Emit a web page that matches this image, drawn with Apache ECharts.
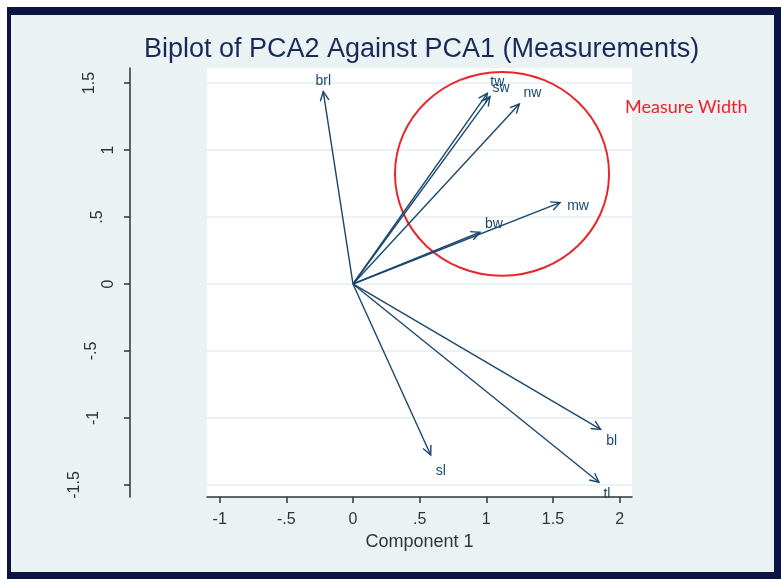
<!DOCTYPE html>
<html><head><meta charset="utf-8">
<script src="https://cdn.jsdelivr.net/npm/echarts@6/dist/echarts.min.js"></script>
<style>
html,body{margin:0;padding:0;background:#fff;}
#frame{position:absolute;left:7px;top:7px;width:774px;height:572px;background:#0c1442;}
#inner{position:absolute;left:11px;top:15px;width:763px;height:557px;background:#eaf2f3;}
#chart{position:absolute;left:0;top:0;width:781px;height:579px;}
</style></head><body>
<div id="frame"></div><div id="inner"></div><div id="chart"></div>
<script>
// ---- data ----
const varNames = ['brl', 'tw', 'sw', 'nw', 'mw', 'bw', 'sl', 'bl', 'tl'];
const pc1Loadings = [-0.223, 1.008, 1.028, 1.248, 1.553, 0.953, 0.583, 1.858, 1.845];
const pc2Loadings = [1.435, 1.423, 1.398, 1.343, 0.607, 0.386, -1.276, -1.085, -1.480];
const xTicks = [-1, -0.5, 0, 0.5, 1, 1.5, 2];
const yTicks = [-1.5, -1, -0.5, 0, 0.5, 1, 1.5];
const circleCenter = [1.118, 0.822];
const circleRadius = [0.803, 0.761];
const titleText = 'Biplot of PCA2 Against PCA1 (Measurements)';
const xTitle = 'Component 1';
const noteText = 'Measure Width';

// ---- styles ----
const NAVY = '#1a476f';
const FONT = '"Liberation Sans", Arial, sans-serif';
const labelOffset = { brl: [0, -11], tw: [10, -11], sw: [11, -9], nw: [13, -11], mw: [18, 3], bw: [14, -8], sl: [10, 16], bl: [11, 12], tl: [8, 12] };
const yLabelShift = { '1.5': 19, '1': 0, '.5': 11, '0': 0, '-.5': 17, '-1': 15, '-1.5': 34 };

const fmt = v => String(v).replace(/^(-?)0\./, '$1.');
const yRich = {};
yTicks.forEach((v, i) => {
  yRich['s' + i] = { fontSize: 16, fontFamily: FONT, color: '#333', padding: [0, 0, yLabelShift[fmt(v)] || 0, 0] };
});

const chart = echarts.init(document.getElementById('chart'), null, { renderer: 'canvas' });
chart.setOption({
  backgroundColor: 'transparent',
  animation: false,
  grid: { left: 207, right: 149, top: 68, bottom: 82, show: true, backgroundColor: '#ffffff', borderWidth: 0 },
  xAxis: {
    type: 'value', min: -1.095, max: 2.093,
    name: xTitle, nameLocation: 'middle', nameGap: 35,
    nameTextStyle: { fontSize: 18, fontFamily: FONT, color: '#333' },
    axisLine: { show: true, onZero: false, lineStyle: { color: '#333', width: 1.5 } },
    axisTick: { show: true, inside: false, length: 6, customValues: xTicks, lineStyle: { color: '#333', width: 1.5 } },
    axisLabel: { customValues: xTicks, formatter: v => fmt(v), fontSize: 16, fontFamily: FONT, color: '#333', margin: 15 },
    splitLine: { show: false }
  },
  yAxis: {
    type: 'value', min: -1.590, max: 1.612, offset: 77,
    axisLine: { show: true, onZero: false, lineStyle: { color: '#333', width: 1.5 } },
    axisTick: { show: true, inside: false, length: 6, customValues: yTicks, lineStyle: { color: '#333', width: 1.5 } },
    axisLabel: {
      customValues: yTicks, rotate: 90, margin: 13, fontSize: 16, fontFamily: FONT, color: '#333',
      formatter: v => { const i = yTicks.indexOf(v); return '{s' + i + '|' + fmt(v) + '}'; },
      rich: yRich
    },
    splitLine: { show: false }
  },
  graphic: [
    { type: 'text', x: 421.5, y: 50, style: { text: titleText, font: '27px ' + FONT, fill: '#1a2a58', align: 'center', verticalAlign: 'middle' } },
    { type: 'text', x: 625, y: 107, style: { text: noteText, font: '18px Lato, sans-serif', fill: '#ee1f28', align: 'left', verticalAlign: 'middle' } }
  ],
  series: [
    {
      type: 'line', data: [], silent: true, z: 1,
      markLine: {
        silent: true, symbol: 'none', animation: false, z: 1,
        label: { show: false },
        lineStyle: { color: '#eaf2f3', width: 2, type: 'solid' },
        data: yTicks.map(v => ({ yAxis: v }))
      }
    },
    {
      type: 'custom', z: 3, clip: false,
      data: [circleCenter],
      renderItem: (params, api) => {
        const c = api.coord([api.value(0), api.value(1)]);
        const s = api.size(circleRadius);
        return { type: 'ellipse', shape: { cx: c[0], cy: c[1], rx: s[0], ry: s[1] }, style: { fill: null, stroke: '#e8262b', lineWidth: 2 } };
      }
    },
    {
      type: 'custom', z: 4, clip: false,
      data: varNames.map((n, i) => [pc1Loadings[i], pc2Loadings[i]]),
      encode: { x: 0, y: 1 },
      renderItem: (params, api) => {
        const o = api.coord([0, 0]);
        const p = api.coord([api.value(0), api.value(1)]);
        const ang = Math.atan2(p[1] - o[1], p[0] - o[0]);
        const L = 10, a = 0.45;
        const h1 = [p[0] - L * Math.cos(ang - a), p[1] - L * Math.sin(ang - a)];
        const h2 = [p[0] - L * Math.cos(ang + a), p[1] - L * Math.sin(ang + a)];
        const name = varNames[params.dataIndex];
        const off = labelOffset[name];
        return {
          type: 'group',
          children: [
            { type: 'line', shape: { x1: o[0], y1: o[1], x2: p[0], y2: p[1] }, style: { stroke: NAVY, lineWidth: 1.4 } },
            { type: 'polyline', shape: { points: [h1, p, h2] }, style: { stroke: NAVY, fill: null, lineWidth: 1.4 } },
            { type: 'text', x: p[0] + off[0], y: p[1] + off[1], style: { text: name, font: '14px ' + FONT, fill: NAVY, align: 'center', verticalAlign: 'middle' } }
          ]
        };
      }
    }
  ]
});
</script>
</body></html>
